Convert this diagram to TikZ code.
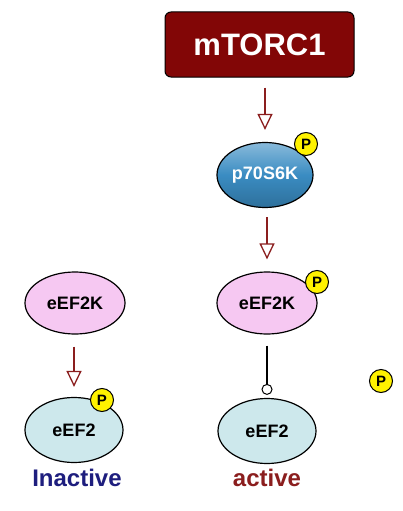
\documentclass[tikz,border=0pt]{standalone}
\usepackage{fontspec}
\setmainfont{Liberation Sans}
\usetikzlibrary{shapes.geometric,arrows.meta}
\definecolor{torcred}{HTML}{820606}
\definecolor{arrred}{HTML}{8B1E1E}
\definecolor{kpink}{HTML}{F6C8F2}
\definecolor{eblue}{HTML}{CDE8EC}
\definecolor{sblue}{HTML}{3A8CC2}
\definecolor{inkblue}{HTML}{1E1E7E}
\begin{document}
\begin{tikzpicture}[x=1pt,y=-1pt,
    prot/.style={ellipse,draw=black,line width=1.2pt,inner sep=0pt,font=\bfseries\fontsize{18}{18}\selectfont},
    kinase/.style={prot,fill=kpink,minimum width=100pt,minimum height=62pt},
    factor/.style={prot,fill=eblue,minimum width=98pt,minimum height=65pt},
    phos/.style={circle,draw=black,line width=1pt,fill=yellow,minimum size=23pt,inner sep=0pt,font=\bfseries\fontsize{15}{15}\selectfont},
    act/.style={draw=arrred,line width=2pt,-{Triangle[open,length=16pt,width=15pt,line width=1.3pt]}},
    inhib/.style={draw=black,line width=2pt,-{Circle[open,length=11pt,line width=1pt]}},
    state/.style={font=\bfseries\fontsize{24}{24}\selectfont}]
  \useasboundingbox[fill=white] (0,0) rectangle (403,511);
  \node[draw=black,line width=1pt,fill=torcred,rounded corners=6pt,minimum width=189pt,minimum height=65pt,text=white,font=\bfseries\fontsize{31}{31}\selectfont] (mtorc) at (259.5,44.5) {mTORC1};
  \node[prot,top color=sblue!60!white,bottom color=sblue!80!black,middle color=sblue,minimum width=96pt,minimum height=65pt,text=white] (s6k) at (265,175) {p70S6K};
  \node[kinase] (kleft) at (75,303) {eEF2K};
  \node[kinase] (kright) at (267,303) {eEF2K};
  \node[factor] (eleft) at (74,430) {eEF2};
  \node[factor] (eright) at (267,431) {eEF2};
  \node[phos] (ps6k) at (306,144) {P};
  \node[phos] (pkright) at (317,282) {P};
  \node[phos] (peleft) at (102,400) {P};
  \node[phos] (pfree) at (381,381) {P};
  \node[state,text=inkblue] (inact) at (77,478) {Inactive};
  \node[state,text=arrred] (actv) at (267,478) {active};
  \draw[act,shorten <=10pt,shorten >=12pt] (s6k.north |- mtorc.south) -- (s6k.north);
  \draw[act,shorten <=9pt,shorten >=12pt] (kright.north |- s6k.south) -- (kright.north);
  \draw[act,shorten <=12pt,shorten >=10pt] (eleft.north |- kleft.south) -- (eleft.north);
  \draw[inhib,shorten <=11pt,shorten >=3pt] (eright.north |- kright.south) -- (eright.north);
\end{tikzpicture}
\end{document}
